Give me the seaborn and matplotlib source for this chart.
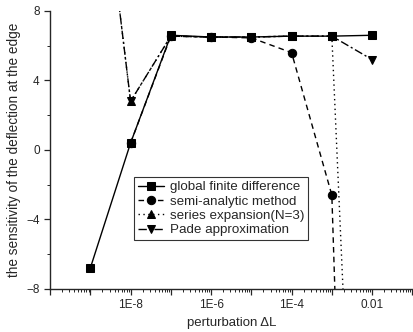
import numpy as np
import pandas as pd
import matplotlib
matplotlib.use("Agg")
import matplotlib.pyplot as plt
import matplotlib.ticker as mticker
import seaborn as sns

# perturbation values (x) and sensitivity
perturbation = [1e-9, 1e-8, 1e-7, 1e-6, 1e-5, 1e-4, 1e-3, 1e-2]
global_fd    = [-6.8, 0.4, 6.6, 6.5, 6.5, 6.55, 6.55, 6.6]
semi_anal    = [np.nan, 0.4, 6.55, 6.5, 6.45, 5.6, -2.6, -75.0]
series_exp   = [22.0, 2.8, 6.55, 6.5, 6.5, 6.55, 6.55, -46.0]
pade_approx  = [22.0, 2.8, 6.55, 6.5, 6.5, 6.55, 6.55, 5.2]

series_names = ["global finite difference", "semi-analytic method",
                "series expansion(N=3)", "Pade approximation"]
series_vals = [global_fd, semi_anal, series_exp, pade_approx]
markers = ["s", "o", "^", "v"]
dashes = ["-", (0, (4, 3)), (0, (1, 2.5)), (0, (6, 2, 1.5, 2))]

df = pd.concat([
    pd.DataFrame({"dL": perturbation, "sens": v, "method": n})
    for n, v in zip(series_names, series_vals)
], ignore_index=True)

sns.set_style("ticks")
plt.rcParams["font.family"] = ["Liberation Sans", "DejaVu Sans"]

fig = plt.figure(figsize=(4.14, 3.32), dpi=100)
ax = fig.add_axes([0.121, 0.13, 0.879, 0.837])

for name, mk, ls in zip(series_names, markers, dashes):
    sub = df[df["method"] == name]
    sns.lineplot(data=sub, x="dL", y="sens", ax=ax, estimator=None, sort=False,
                 color="black", linewidth=1.0, linestyle=ls, marker=mk,
                 markersize=6, markeredgecolor="black", label=name)

ax.set_xscale("log")
ax.set_xlim(1e-10, 1.1e-1)
ax.set_ylim(-8, 8)
ax.set_yticks([-8, -4, 0, 4, 8])
ax.yaxis.set_minor_locator(mticker.MultipleLocator(2))
ax.xaxis.set_major_locator(mticker.LogLocator(base=10, numticks=20))
ax.xaxis.set_minor_locator(mticker.LogLocator(base=10, subs=np.arange(2, 10), numticks=20))

tick_map = {-8: "1E-8", -6: "1E-6", -4: "1E-4", -2: "0.01"}
def fmt(v, pos):
    if v <= 0:
        return ""
    e = int(round(np.log10(v)))
    return tick_map.get(e, "")
ax.xaxis.set_major_formatter(mticker.FuncFormatter(fmt))
ax.xaxis.set_minor_formatter(mticker.NullFormatter())

ax.tick_params(axis="both", which="major", labelsize=8.5, length=4, width=0.9, direction="out")
ax.tick_params(axis="both", which="minor", length=2, width=0.7, direction="out")
sns.despine(ax=ax)
for sp in ["left", "bottom"]:
    ax.spines[sp].set_linewidth(1.0)

ax.set_xlabel("perturbation ΔL", fontsize=9.5)
ax.set_ylabel("the sensitivity of the deflection at the edge", fontsize=9.8)

leg = ax.legend(loc="lower left", bbox_to_anchor=(0.23, 0.175), fontsize=9.6,
                frameon=True, fancybox=False, edgecolor="black",
                handlelength=2.0, handletextpad=0.4, borderpad=0.3,
                labelspacing=0.15, borderaxespad=0)
leg.get_frame().set_linewidth(0.8)

fig.savefig("out.png", dpi=100)
